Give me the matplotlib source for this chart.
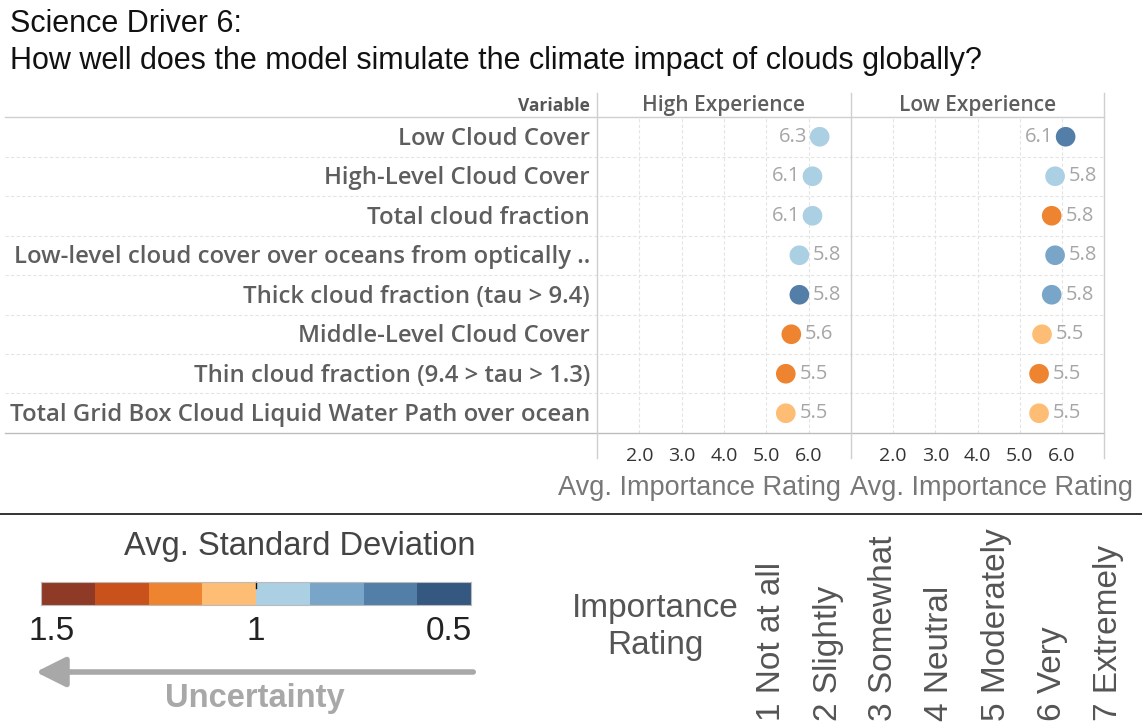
import numpy as np
import matplotlib
matplotlib.use("Agg")
import matplotlib.pyplot as plt
from matplotlib.colors import ListedColormap, BoundaryNorm
from matplotlib.lines import Line2D
from matplotlib.patches import FancyArrowPatch

W, H = 1142, 722

# ---- data ----
variables = [
    "Low Cloud Cover",
    "High-Level Cloud Cover",
    "Total cloud fraction",
    "Low-level cloud cover over oceans from optically ..",
    "Thick cloud fraction (tau > 9.4)",
    "Middle-Level Cloud Cover",
    "Thin cloud fraction (9.4 > tau > 1.3)",
    "Total Grid Box Cloud Liquid Water Path over ocean",
]
panels = ["High Experience", "Low Experience"]
high_rating = [6.26, 6.09, 6.09, 5.78, 5.78, 5.59, 5.46, 5.46]
low_rating = [6.09, 5.84, 5.76, 5.84, 5.76, 5.53, 5.46, 5.46]
high_std = [0.95, 0.95, 0.95, 0.95, 0.70, 1.20, 1.20, 1.05]
low_std = [0.70, 0.95, 1.20, 0.80, 0.80, 1.05, 1.20, 1.05]
x_ticks = [2.0, 3.0, 4.0, 5.0, 6.0]

# Tableau orange-blue diverging, 8 steps (low std -> high std)
std_colors = ["#355880", "#537ea7", "#79a6c8", "#abcfe3",
              "#fdbd74", "#ee8430", "#c9521c", "#8f3927"]
std_bounds = np.linspace(0.5, 1.5, 9)
cb_ticks = [1.5, 1.0, 0.5]
cb_labels = ["1.5", "1", "0.5"]
rating_labels = ["1 Not at all", "2 Slightly", "3 Somewhat", "4 Neutral",
                 "5 Moderately", "6 Very", "7 Extremely"]

cmap = ListedColormap(std_colors)
norm = BoundaryNorm(std_bounds, cmap.N)

TAB = "Open Sans"
HELV = "Liberation Sans"


def fx(px):
    return px / W


def fy(py):
    return 1 - py / H


def hline(y, x0, x1, **kw):
    fig.add_artist(Line2D([fx(x0), fx(x1)], [fy(y), fy(y)], transform=fig.transFigure, **kw))


def vline(x, y0, y1, **kw):
    fig.add_artist(Line2D([fx(x), fx(x)], [fy(y0), fy(y1)], transform=fig.transFigure, **kw))


fig = plt.figure(figsize=(W / 100, H / 100), dpi=100)

# title
fig.text(fx(10), fy(24), "Science Driver 6:", fontsize=22, family=HELV, color="#111", va="center")
fig.text(fx(10), fy(61), "How well does the model simulate the climate impact of clouds globally?",
         fontsize=22, family=HELV, color="#111", va="center")

# table frame
top, bot = 117, 433
nrow = len(variables)
rowh = (bot - top) / nrow
hline(top, 5, 1104, color="#cfcfcf", lw=1)
hline(bot, 5, 1104, color="#bdbdbd", lw=1)
for k in range(1, nrow):
    hline(top + k * rowh, 5, 1104, color="#e4e4e4", lw=0.8, ls=(0, (3, 2)))
for xx in [597, 851, 1104]:
    vline(xx, 93, 458, color="#cfcfcf", lw=1)

fig.text(fx(590), fy(106), "Variable", fontsize=12.5, family=TAB, weight="bold",
         color="#555", ha="right", va="center")
for i, v in enumerate(variables):
    fig.text(fx(590), fy(top + (i + 0.5) * rowh + 2), v, fontsize=17.2, family=TAB,
             weight="semibold", color="#5e5e5e", ha="right", va="center")

panel_x = [(597, 851), (851, 1104)]
ratings = [high_rating, low_rating]
stds = [high_std, low_std]
xlabel_cx = [700, 992]
for p in range(2):
    x0, x1 = panel_x[p]
    ax = fig.add_axes([fx(x0), fy(bot), fx(x1 - x0), fy(top) - fy(bot)])
    ax.set_xlim(1, 7)
    ax.set_ylim(nrow - 0.5, -0.5)
    for s in ax.spines.values():
        s.set_visible(False)
    ax.set_yticks([])
    ax.set_xticks(x_ticks)
    ax.set_xticklabels([f"{t:.1f}" for t in x_ticks], fontsize=14, family=TAB, color="#333")
    ax.tick_params(axis="x", length=0, pad=10)
    ax.grid(axis="x", color="#e4e4e4", lw=0.8, ls=(0, (3, 2)))
    ax.set_axisbelow(True)
    yy = np.arange(nrow)
    ax.scatter(ratings[p], yy, c=stds[p], cmap=cmap, norm=norm, s=200, lw=0, zorder=3)
    for y, r in zip(yy, ratings[p]):
        if r > 6:
            ax.annotate(f"{r:.1f}", (r, y), xytext=(-8.5, 0), textcoords="offset points",
                        ha="right", va="center", fontsize=14.5, family=TAB, color="#a6a6a6")
        else:
            ax.annotate(f"{r:.1f}", (r, y), xytext=(10, 0), textcoords="offset points",
                        ha="left", va="center", fontsize=14.5, family=TAB, color="#a6a6a6")
    fig.text(fx((x0 + x1) / 2), fy(106), panels[p], fontsize=15, family=TAB,
             weight="semibold", color="#5e5e5e", ha="center", va="center")
    fig.text(fx(xlabel_cx[p]), fy(488), "Avg. Importance Rating", fontsize=19.5, family=HELV,
             color="#777", ha="center", va="center")

hline(514, 0, W, color="#111", lw=1.2)

# colour legend
fig.text(fx(476), fy(547), "Avg. Standard Deviation", fontsize=23.5, family=HELV,
         color="#444", ha="right", va="center")
cax = fig.add_axes([fx(41), fy(605), fx(430), fy(582) - fy(605)])
mids = (std_bounds[:-1] + std_bounds[1:]) / 2
cax.pcolormesh(std_bounds, [0, 1], mids[None, :], cmap=cmap, norm=norm)
cax.set_xlim(1.5, 0.5)
cax.set_xticks([])
cax.set_yticks([])
for s in cax.spines.values():
    s.set_color("#bbbbbb")
cax.plot([1.0, 1.0], [1.0, 0.75], color="#111", lw=1, clip_on=False)
for t, lab, ha, dx in zip(cb_ticks, cb_labels, ["center", "center", "right"], [8, 0, 1]):
    cax.annotate(lab, (t, 0), xycoords=cax.get_xaxis_transform(), xytext=(dx, -8),
                 textcoords="offset points", fontsize=24, family=HELV,
                 color="#222", ha=ha, va="top")

fig.add_artist(FancyArrowPatch(
    (fx(476), fy(672)), (fx(33), fy(672)), transform=fig.transFigure,
    arrowstyle="-|>,head_length=12,head_width=6", mutation_scale=1.5, color="#a8a8a8", lw=4))
fig.text(fx(255), fy(698), "Uncertainty", fontsize=23.5, family=HELV, weight="bold",
         color="#a8a8a8", ha="center", va="center")

# importance rating legend
fig.text(fx(655), fy(627), "Importance\nRating", fontsize=24, family=HELV, color="#555",
         ha="center", va="center", linespacing=1.25)
for i, lab in enumerate(rating_labels):
    fig.text(fx(772 + 56 * i), fy(721), lab, fontsize=24, family=HELV, color="#555",
             rotation=90, ha="center", va="bottom")

fig.savefig("out.png", dpi=100)
